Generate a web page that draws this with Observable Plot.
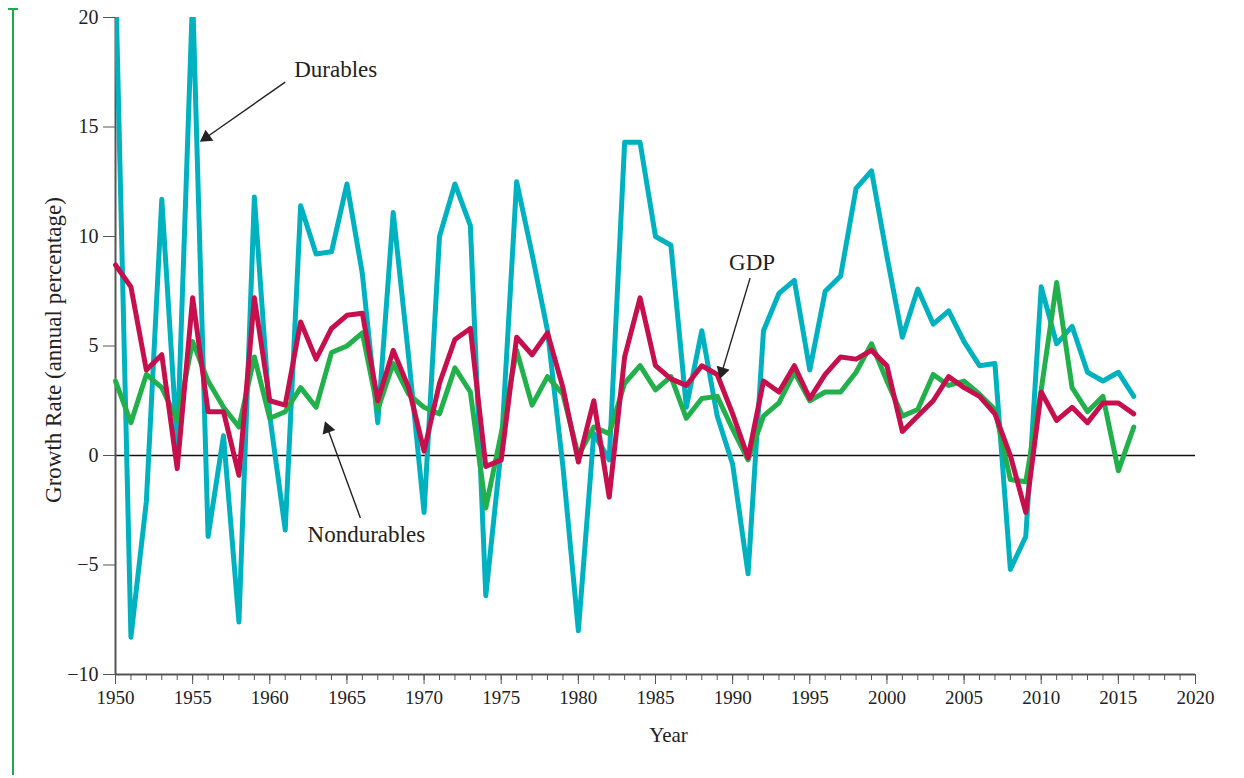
<!DOCTYPE html>
<html><head><meta charset="utf-8">
<script src="https://cdn.jsdelivr.net/npm/d3@7"></script>
<script src="https://cdn.jsdelivr.net/npm/@observablehq/plot@0.6"></script>
<style>
body{margin:0;background:#fff;}
#wrap{position:relative;width:1244px;height:778px;}
#bar{position:absolute;left:12px;top:8px;width:2px;height:767px;background:#1aab4b;}
#cap{position:absolute;left:8px;top:8px;width:10px;height:2px;background:#1aab4b;}
#chart{position:absolute;left:0;top:0;}
</style>
</head><body><div id="wrap"><div id="bar"></div><div id="cap"></div><div id="chart"></div></div>
<script>
const years = [1950,1951,1952,1953,1954,1955,1956,1957,1958,1959,1960,1961,1962,1963,1964,1965,1966,1967,1968,1969,
1970,1971,1972,1973,1974,1975,1976,1977,1978,1979,1980,1981,1982,1983,1984,1985,1986,1987,1988,1989,
1990,1991,1992,1993,1994,1995,1996,1997,1998,1999,2000,2001,2002,2003,2004,2005,2006,2007,2008,2009,
2010,2011,2012,2013,2014,2015,2016];

const durables = [22,-8.3,-2.1,11.7,0.5,21,-3.7,0.9,-7.6,11.8,1.8,-3.4,11.4,9.2,9.3,12.4,8.3,1.5,11.1,4.5,
-2.6,10.0,12.4,10.5,-6.4,0.3,12.5,9.2,5.7,-0.5,-8.0,1.0,-0.2,14.3,14.3,10.0,9.6,2.2,5.7,1.8,
-0.4,-5.4,5.7,7.4,8.0,3.9,7.5,8.2,12.2,13.0,9.1,5.4,7.6,6.0,6.6,5.2,4.1,4.2,-5.2,-3.7,
7.7,5.1,5.9,3.8,3.4,3.8,2.7];

const gdp = [8.7,7.7,3.9,4.6,-0.6,7.2,2.0,2.0,-0.9,7.2,2.5,2.3,6.1,4.4,5.8,6.4,6.5,2.5,4.8,3.1,
0.2,3.3,5.3,5.8,-0.5,-0.2,5.4,4.6,5.6,3.1,-0.3,2.5,-1.9,4.5,7.2,4.1,3.5,3.2,4.1,3.7,
1.9,-0.1,3.4,2.9,4.1,2.6,3.7,4.5,4.4,4.8,4.1,1.1,1.8,2.5,3.6,3.1,2.7,1.9,0.0,-2.6,
2.9,1.6,2.2,1.5,2.4,2.4,1.9];

const nondurables = [3.4,1.5,3.7,3.1,1.6,5.2,3.4,2.2,1.3,4.5,1.7,2.0,3.1,2.2,4.7,5.0,5.6,2.1,4.2,2.8,
2.2,1.9,4.0,2.9,-2.4,1.0,4.8,2.3,3.6,2.8,0.0,1.3,1.0,3.3,4.1,3.0,3.6,1.7,2.6,2.7,
1.2,-0.2,1.8,2.4,3.8,2.5,2.9,2.9,3.8,5.1,3.4,1.8,2.1,3.7,3.2,3.4,2.8,2.1,-1.1,-1.2,
3.0,7.9,3.1,2.0,2.7,-0.7,1.3];

const yTicks = [-10,-5,0,5,10,15,20];
const xMajorTicks = [1950,1955,1960,1965,1970,1975,1980,1985,1990,1995,2000,2005,2010,2015,2020];
const xMinorTicks = d3.range(1950, 2021);

const annotations = [
  {label:"Durables", tx:1961.58, ty:17.62, anchor:"start", x1:1961.0, y1:17.05, x2:1955.67, y2:14.42},
  {label:"GDP", tx:1991.26, ty:8.8, anchor:"middle", x1:1991.13, y1:8.1, x2:1989.24, y2:3.66},
  {label:"Nondurables", tx:1966.26, ty:-3.6, anchor:"middle", x1:1965.87, y1:-2.85, x2:1963.66, y2:1.4}
];

const rows = years.map((y,i)=>({year:y, durables:durables[i], gdp:gdp[i], nondurables:nondurables[i]}));

// helper scales to orient arrowheads (same domains/ranges as the plot)
const mL = 115, mR = 49, mT = 17, mB = 104, W = 1244, H = 778;
const sx = Plot.scale({x: {domain: [1950, 2020], range: [mL, W - mR]}});
const sy = Plot.scale({y: {domain: [-10, 20], range: [H - mB, mT]}});
const heads = annotations.map(a => {
  const px1 = sx.apply(a.x1), py1 = sy.apply(a.y1), px2 = sx.apply(a.x2), py2 = sy.apply(a.y2);
  const len = Math.hypot(px2 - px1, py2 - py1);
  const ux = (px2 - px1) / len, uy = (py2 - py1) / len;
  return {
    x: sx.invert(px2 - ux * 4), y: sy.invert(py2 - uy * 4),
    ex: sx.invert(px2 - ux * 6), ey: sy.invert(py2 - uy * 6),
    x1: a.x1, y1: a.y1,
    angle: Math.atan2(ux, -uy) * 180 / Math.PI
  };
});

const lineOpts = {x: "year", strokeWidth: 5, strokeLinejoin: "round", strokeLinecap: "round"};

const chart = Plot.plot({
  width: W, height: H,
  marginLeft: mL, marginRight: mR, marginTop: mT, marginBottom: mB,
  style: {fontFamily: "'Liberation Serif', serif", fontSize: "19px", color: "#222", background: "transparent", overflow: "visible"},
  x: {domain: [1950, 2020]},
  y: {domain: [-10, 20]},
  marks: [
    Plot.ruleY([0], {stroke: "#111", strokeWidth: 1.3}),
    Plot.ruleX([1950], {stroke: "#555", strokeWidth: 2}),
    Plot.ruleY([-10], {stroke: "#555", strokeWidth: 2}),
    Plot.lineY(rows, {...lineOpts, y: "durables", stroke: "#00b1bf", clip: true}),
    Plot.lineY(rows, {...lineOpts, y: "nondurables", stroke: "#22b04c"}),
    Plot.lineY(rows, {...lineOpts, y: "gdp", stroke: "#c6104d"}),
    Plot.axisX({ticks: xMinorTicks, tickSize: 6, tickFormat: () => "", label: null, stroke: "#555"}),
    Plot.axisX({ticks: xMajorTicks, tickSize: 10, tickPadding: 6, tickFormat: d3.format("d"), label: null, stroke: "#555"}),
    Plot.axisY({ticks: yTicks, tickSize: 12, tickPadding: 5, label: null, stroke: "#555", fontSize: 20}),
    Plot.text(["Growth Rate (annual percentage)"], {frameAnchor: "left", textAnchor: "middle", rotate: -90, dx: -62, dy: 4, fontSize: 23, fill: "#222"}),
    Plot.text(["Year"], {frameAnchor: "bottom", dy: 67, dx: 13, fontSize: 21, fill: "#222"}),
    Plot.link(heads, {x1: "x1", y1: "y1", x2: "ex", y2: "ey", stroke: "#222", strokeWidth: 1.4}),
    Plot.dot(heads, {x: "x", y: "y", symbol: "triangle", r: 5, fill: "#222", stroke: "none", rotate: "angle"}),
    Plot.text(annotations.filter(a => a.anchor === "start"), {x: "tx", y: "ty", text: "label", textAnchor: "start", fontSize: 23, fill: "#222"}),
    Plot.text(annotations.filter(a => a.anchor === "middle"), {x: "tx", y: "ty", text: "label", textAnchor: "middle", fontSize: 23, fill: "#222"})
  ]
});
document.getElementById("chart").appendChild(chart);
</script>
</body></html>
